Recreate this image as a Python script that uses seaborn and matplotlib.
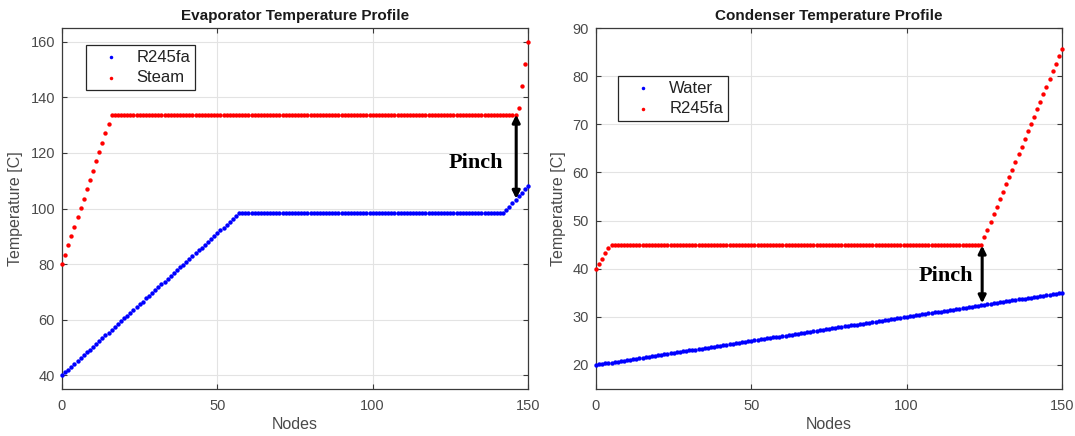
import numpy as np
import pandas as pd
import matplotlib
matplotlib.use("Agg")
import matplotlib.pyplot as plt
import seaborn as sns

# ---------------- data ----------------
evap_titles = "Evaporator Temperature Profile"
cond_titles = "Condenser Temperature Profile"

evap_r245fa = [
    40.0, 41.0, 42.0, 43.1, 44.1, 45.1, 46.1, 47.1, 48.2, 49.2,
    50.2, 51.2, 52.3, 53.3, 54.3, 55.3, 56.3, 57.4, 58.4, 59.4,
    60.4, 61.4, 62.5, 63.5, 64.5, 65.5, 66.5, 67.6, 68.6, 69.6,
    70.6, 71.7, 72.7, 73.7, 74.7, 75.7, 76.8, 77.8, 78.8, 79.8,
    80.8, 81.9, 82.9, 83.9, 84.9, 85.9, 87.0, 88.0, 89.0, 90.0,
    91.1, 92.1, 93.1, 94.1, 95.1, 96.2, 97.2, 98.2,
    98.2, 98.2, 98.2, 98.2, 98.2, 98.2, 98.2, 98.2, 98.2, 98.2,
    98.2, 98.2, 98.2, 98.2, 98.2, 98.2, 98.2, 98.2, 98.2, 98.2,
    98.2, 98.2, 98.2, 98.2, 98.2, 98.2, 98.2, 98.2, 98.2, 98.2,
    98.2, 98.2, 98.2, 98.2, 98.2, 98.2, 98.2, 98.2, 98.2, 98.2,
    98.2, 98.2, 98.2, 98.2, 98.2, 98.2, 98.2, 98.2, 98.2, 98.2,
    98.2, 98.2, 98.2, 98.2, 98.2, 98.2, 98.2, 98.2, 98.2, 98.2,
    98.2, 98.2, 98.2, 98.2, 98.2, 98.2, 98.2, 98.2, 98.2, 98.2,
    98.2, 98.2, 98.2, 98.2, 98.2, 98.2, 98.2, 98.2, 98.2, 98.2,
    98.2, 98.2, 98.2, 98.2, 98.2,
    99.4, 100.7, 101.9, 103.2, 104.4, 105.6, 106.9, 108.1,
]

evap_steam = [
    80.0, 83.4, 86.7, 90.1, 93.5, 96.8, 100.2, 103.5, 106.9, 110.3,
    113.6, 117.0, 120.4, 123.7, 127.1, 130.4, 133.8,
    133.8, 133.8, 133.8, 133.8, 133.8, 133.8, 133.8, 133.8, 133.8, 133.8,
    133.8, 133.8, 133.8, 133.8, 133.8, 133.8, 133.8, 133.8, 133.8, 133.8,
    133.8, 133.8, 133.8, 133.8, 133.8, 133.8, 133.8, 133.8, 133.8, 133.8,
    133.8, 133.8, 133.8, 133.8, 133.8, 133.8, 133.8, 133.8, 133.8, 133.8,
    133.8, 133.8, 133.8, 133.8, 133.8, 133.8, 133.8, 133.8, 133.8, 133.8,
    133.8, 133.8, 133.8, 133.8, 133.8, 133.8, 133.8, 133.8, 133.8, 133.8,
    133.8, 133.8, 133.8, 133.8, 133.8, 133.8, 133.8, 133.8, 133.8, 133.8,
    133.8, 133.8, 133.8, 133.8, 133.8, 133.8, 133.8, 133.8, 133.8, 133.8,
    133.8, 133.8, 133.8, 133.8, 133.8, 133.8, 133.8, 133.8, 133.8, 133.8,
    133.8, 133.8, 133.8, 133.8, 133.8, 133.8, 133.8, 133.8, 133.8, 133.8,
    133.8, 133.8, 133.8, 133.8, 133.8, 133.8, 133.8, 133.8, 133.8, 133.8,
    133.8, 133.8, 133.8, 133.8, 133.8, 133.8, 133.8, 133.8, 133.8, 133.8,
    133.8, 133.8, 133.8, 133.8, 133.8, 133.8, 133.8, 133.8, 133.8, 133.8,
    136.3, 144.2, 152.1, 160.0,
]

cond_water = [
    20.0, 20.1, 20.2, 20.3, 20.4, 20.5, 20.6, 20.7, 20.8, 20.9,
    21.0, 21.1, 21.2, 21.3, 21.4, 21.5, 21.6, 21.7, 21.8, 21.9,
    22.0, 22.1, 22.2, 22.3, 22.4, 22.5, 22.6, 22.7, 22.8, 22.9,
    23.0, 23.1, 23.2, 23.3, 23.4, 23.5, 23.6, 23.7, 23.8, 23.9,
    24.0, 24.1, 24.2, 24.3, 24.4, 24.5, 24.6, 24.7, 24.8, 24.9,
    25.0, 25.1, 25.2, 25.3, 25.4, 25.5, 25.6, 25.7, 25.8, 25.9,
    26.0, 26.1, 26.2, 26.3, 26.4, 26.5, 26.6, 26.7, 26.8, 26.9,
    27.0, 27.1, 27.2, 27.3, 27.4, 27.5, 27.6, 27.7, 27.8, 27.9,
    28.0, 28.1, 28.2, 28.3, 28.4, 28.5, 28.6, 28.7, 28.8, 28.9,
    29.0, 29.1, 29.2, 29.3, 29.4, 29.5, 29.6, 29.7, 29.8, 29.9,
    30.0, 30.1, 30.2, 30.3, 30.4, 30.5, 30.6, 30.7, 30.8, 30.9,
    31.0, 31.1, 31.2, 31.3, 31.4, 31.5, 31.6, 31.7, 31.8, 31.9,
    32.0, 32.1, 32.2, 32.3, 32.4, 32.5, 32.6, 32.7, 32.8, 32.9,
    33.0, 33.1, 33.2, 33.3, 33.4, 33.5, 33.6, 33.7, 33.8, 33.9,
    34.0, 34.1, 34.2, 34.3, 34.4, 34.5, 34.6, 34.7, 34.8, 34.9,
    35.0,
]

cond_r245fa = [
    40.0, 41.0, 42.1, 43.2, 44.3,
    45.0, 45.0, 45.0, 45.0, 45.0, 45.0, 45.0, 45.0, 45.0, 45.0,
    45.0, 45.0, 45.0, 45.0, 45.0, 45.0, 45.0, 45.0, 45.0, 45.0,
    45.0, 45.0, 45.0, 45.0, 45.0, 45.0, 45.0, 45.0, 45.0, 45.0,
    45.0, 45.0, 45.0, 45.0, 45.0, 45.0, 45.0, 45.0, 45.0, 45.0,
    45.0, 45.0, 45.0, 45.0, 45.0, 45.0, 45.0, 45.0, 45.0, 45.0,
    45.0, 45.0, 45.0, 45.0, 45.0, 45.0, 45.0, 45.0, 45.0, 45.0,
    45.0, 45.0, 45.0, 45.0, 45.0, 45.0, 45.0, 45.0, 45.0, 45.0,
    45.0, 45.0, 45.0, 45.0, 45.0, 45.0, 45.0, 45.0, 45.0, 45.0,
    45.0, 45.0, 45.0, 45.0, 45.0, 45.0, 45.0, 45.0, 45.0, 45.0,
    45.0, 45.0, 45.0, 45.0, 45.0, 45.0, 45.0, 45.0, 45.0, 45.0,
    45.0, 45.0, 45.0, 45.0, 45.0, 45.0, 45.0, 45.0, 45.0, 45.0,
    45.0, 45.0, 45.0, 45.0, 45.0, 45.0, 45.0, 45.0, 45.0, 45.0,
    46.6, 48.1, 49.7, 51.3, 52.8, 54.4, 55.9, 57.5, 59.1, 60.6,
    62.2, 63.8, 65.3, 66.9, 68.5, 70.0, 71.6, 73.1, 74.7, 76.3,
    77.8, 79.4, 81.0, 82.5, 84.1, 85.7,
]

evap_labels = ["R245fa", "Steam"]
cond_labels = ["Water", "R245fa"]
x_ticks = [0, 50, 100, 150]
evap_yticks = [40, 60, 80, 100, 120, 140, 160]
cond_yticks = [20, 30, 40, 50, 60, 70, 80, 90]

# ---------------- style ----------------
sns.set_theme(style="ticks")
plt.rcParams["font.family"] = ["Liberation Sans", "DejaVu Sans"]

BLUE = "#0000ff"
RED = "#ff0000"
AX_COL = "#3a3a3a"
TXT_COL = "#4a4a4a"

fig = plt.figure(figsize=(10.75, 4.36), dpi=100)
ax1 = fig.add_axes([62 / 1075, 1 - 389 / 436, 466 / 1075, 361 / 436])
ax2 = fig.add_axes([596 / 1075, 1 - 389 / 436, 466 / 1075, 361 / 436])


def series_frame(values, label):
    return pd.DataFrame({"Nodes": np.arange(len(values)), "T": values, "Fluid": label})


def style_axes(ax, title, yticks, ylim):
    ax.set_xlim(0, 150)
    ax.set_ylim(*ylim)
    ax.set_xticks(x_ticks)
    ax.set_yticks(yticks)
    ax.grid(True, color="#e3e3e3", linewidth=0.8)
    ax.set_axisbelow(True)
    for sp in ax.spines.values():
        sp.set_visible(True)
        sp.set_color(AX_COL)
        sp.set_linewidth(0.9)
    ax.tick_params(direction="in", length=3.5, width=0.8, color=AX_COL,
                   labelcolor=TXT_COL, labelsize=10.5, top=True, right=True,
                   pad=5)
    ax.tick_params(axis="x", pad=7)
    ax.set_title(title, fontsize=11, fontweight="bold", color="#1a1a1a", pad=6)
    ax.set_xlabel("Nodes", fontsize=11.5, color=TXT_COL, labelpad=3)
    ax.set_ylabel("Temperature [C]", fontsize=11.5, color=TXT_COL, labelpad=5)


def add_legend(ax, anchor):
    leg = ax.legend(loc="upper left", bbox_to_anchor=anchor, borderaxespad=0,
                    fontsize=12, frameon=True, fancybox=False,
                    edgecolor="#262626", framealpha=1, borderpad=0.3,
                    labelspacing=0.35, handlelength=2.4, handletextpad=0.35,
                    scatterpoints=1, markerscale=0.8)
    leg.get_frame().set_linewidth(0.9)
    for t in leg.get_texts():
        t.set_color("#222222")


def add_pinch(ax, x, y_top, y_bot, tx, ty):
    ax.annotate("", xy=(x, y_bot), xytext=(x, y_top),
                arrowprops=dict(arrowstyle="<|-|>", color="black", lw=2.2,
                                mutation_scale=11, shrinkA=0, shrinkB=0))
    ax.text(tx, ty, "Pinch", fontsize=16, fontweight="bold",
            family=["Liberation Serif", "DejaVu Serif"], color="black",
            ha="center", va="center")


MS = 10


def dots(values, label, color, ax):
    sns.scatterplot(data=series_frame(values, label), x="Nodes", y="T",
                    color=color, s=MS, linewidth=0, ax=ax, label=label,
                    clip_on=False, zorder=3)


# Evaporator
dots(evap_r245fa, evap_labels[0], BLUE, ax1)
dots(evap_steam, evap_labels[1], RED, ax1)
style_axes(ax1, evap_titles, evap_yticks, (35, 165))
add_legend(ax1, (0.051, 0.954))
add_pinch(ax1, 146.2, 133.8, 103.5, 133.3, 116.5)

# Condenser
dots(cond_water, cond_labels[0], BLUE, ax2)
dots(cond_r245fa, cond_labels[1], RED, ax2)
style_axes(ax2, cond_titles, cond_yticks, (15, 90))
add_legend(ax2, (0.048, 0.868))
add_pinch(ax2, 124.3, 44.8, 32.8, 112.7, 38.5)

fig.savefig("out.png", dpi=100)
